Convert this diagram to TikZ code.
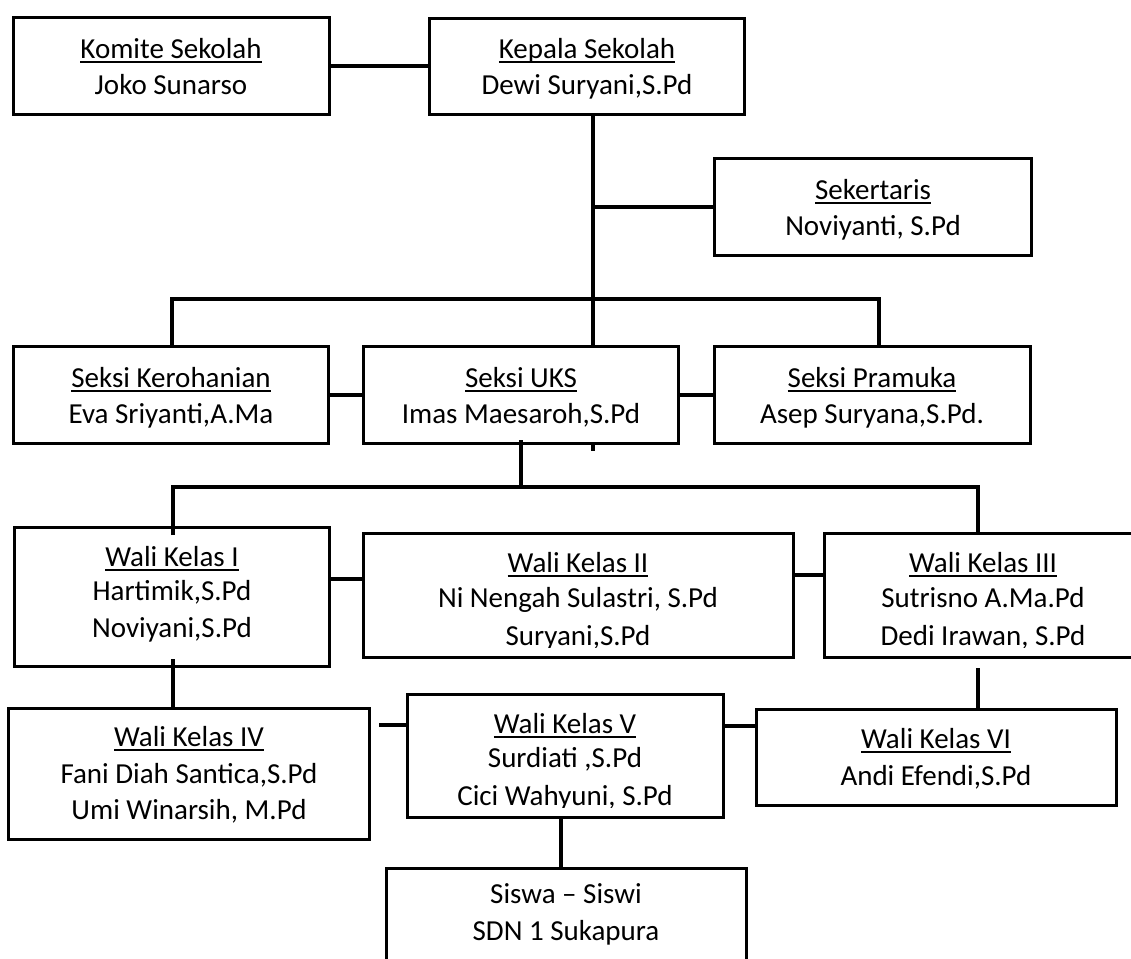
\documentclass[tikz,border=0pt]{standalone}
\usepackage{fontspec}
\setmainfont{Carlito}
\newcommand\ulined[1]{\setbox0\hbox{#1}\rlap{\rule[-4.5pt]{\wd0}{2pt}}\box0}
\begin{document}
\begin{tikzpicture}[x=1pt,y=-1pt,
  box/.style={draw, line width=3.3pt, fill=white, rectangle, inner sep=0pt},
  conn/.style={line width=3.3pt},
  txt/.style={inner sep=0pt, anchor=base, font=\fontsize{29}{35}\selectfont}]
\clip (0,0) rectangle (1131,958);
\fill[white] (0,0) rectangle (1131,958);
% boxes
\node[box, minimum width=316pt, minimum height=97pt] (komite) at (171.25,66) {};
\node[box, minimum width=315pt, minimum height=96pt] (kepala) at (586.75,66.5) {};
\node[box, minimum width=317pt, minimum height=97pt] (sekr) at (873,207) {};
\node[box, minimum width=315pt, minimum height=97pt] (kero) at (170.75,395) {};
\node[box, minimum width=315pt, minimum height=97pt] (uks) at (521,395) {};
\node[box, minimum width=316pt, minimum height=97pt] (pram) at (872.5,395) {};
\node[box, minimum width=315pt, minimum height=139pt] (wali1) at (172,597) {};
\node[box, minimum width=430pt, minimum height=124pt] (wali2) at (578.5,595.5) {};
\node[box, minimum width=317pt, minimum height=124pt] (wali3) at (983,595.5) {};
\node[box, minimum width=361pt, minimum height=131pt] (wali4) at (189,774) {};
\node[box, minimum width=316pt, minimum height=123pt] (wali5) at (565.5,756) {};
\node[box, minimum width=360pt, minimum height=96pt] (wali6) at (936.25,757.5) {};
\node[box, minimum width=360pt, minimum height=133pt] (siswa) at (566.5,935) {};
% junction coordinates
\coordinate (j1) at (593,207);
\coordinate (j2) at (593,299);
\coordinate (mainend) at (593,451);
\coordinate (hl) at (172,299);
\coordinate (hr) at (879,299);
\coordinate (u1) at (521,440);
\coordinate (h2) at (521,487);
\coordinate (h2l) at (173,487);
\coordinate (h2r) at (978,487);
\coordinate (w1top) at (173,535);
\coordinate (w1b) at (173,659);
\coordinate (w3b) at (978,668);
\coordinate (stub) at (379,725);
\coordinate (c12) at (0,579);
\coordinate (c23) at (0,575);
\coordinate (c56) at (0,726);
\coordinate (v5) at (561,0);
% connectors
\draw[conn] (komite.east) -- (komite.east -| kepala.west);
\draw[conn] (kepala.south -| j1) -- (uks.north -| j1);
\draw[conn] (uks.south -| j1) -- (mainend);
\draw[conn] (j1) -- (j1 -| sekr.west);
\draw[conn] (kero.north -| hl) -- (hl) -- (hr) -- (pram.north -| hr);
\draw[conn] (kero.east) -- (uks.west);
\draw[conn] (uks.east) -- (pram.west);
\draw[conn] (u1) -- (h2);
\draw[conn] (w1top) -- (h2l) -- (h2r) -- (wali3.north -| h2r);
\draw[conn] (wali1.east |- c12) -- (wali2.west |- c12);
\draw[conn] (wali2.east |- c23) -- (wali3.west |- c23);
\draw[conn] (w1b) -- (wali4.north -| w1b);
\draw[conn] (w3b) -- (wali6.north -| w3b);
\draw[conn] (stub) -- (wali5.west |- stub);
\draw[conn] (wali5.east |- c56) -- (wali6.west |- c56);
\draw[conn] (wali5.south -| v5) -- (siswa.north -| v5);
% texts
\node[txt] (komiteA) at (171,59) {\ulined{Komite Sekolah}};
\node[txt] (komiteB) at (171,94) {Joko Sunarso};
\node[txt] (kepalaA) at (587,59) {\ulined{Kepala Sekolah}};
\node[txt] (kepalaB) at (587,94) {Dewi Suryani,S.Pd};
\node[txt] (sekrA) at (873,199) {\ulined{Sekertaris}};
\node[txt] (sekrB) at (873,235) {Noviyanti, S.Pd};
\node[txt] (keroA) at (171,387) {\ulined{Seksi Kerohanian}};
\node[txt] (keroB) at (171,423) {Eva Sriyanti,A.Ma};
\node[txt] (uksA) at (521,387) {\ulined{Seksi UKS}};
\node[txt] (uksB) at (521,423) {Imas Maesaroh,S.Pd};
\node[txt] (pramA) at (872,387) {\ulined{Seksi Pramuka}};
\node[txt] (pramB) at (872,423) {Asep Suryana,S.Pd.};
\node[txt] (wali1A) at (172,566) {\ulined{Wali Kelas I}};
\node[txt] (wali1B) at (172,600) {Hartimik,S.Pd};
\node[txt] (wali1C) at (172,637) {Noviyani,S.Pd};
\node[txt] (wali2A) at (578,572) {\ulined{Wali Kelas II}};
\node[txt] (wali2B) at (578,607) {Ni Nengah Sulastri, S.Pd};
\begin{scope}
\clip (365,620) rectangle (792,647);
\node[txt] (wali2C) at (578,645) {Suryani,S.Pd};
\end{scope}
\node[txt] (wali3A) at (983,572) {\ulined{Wali Kelas III}};
\node[txt] (wali3B) at (983,607) {Sutrisno A.Ma.Pd};
\begin{scope}
\clip (826,620) rectangle (1131,647);
\node[txt] (wali3C) at (983,645) {Dedi Irawan, S.Pd};
\end{scope}
\node[txt] (wali4A) at (189,746) {\ulined{Wali Kelas IV}};
\node[txt] (wali4B) at (189,783) {Fani Diah Santica,S.Pd};
\node[txt] (wali4C) at (189,819) {Umi Winarsih, M.Pd};
\node[txt] (wali5A) at (565,733) {\ulined{Wali Kelas V}};
\node[txt] (wali5B) at (565,767) {Surdiati ,S.Pd};
\begin{scope}
\clip (409,780) rectangle (722,807);
\node[txt] (wali5C) at (565,805) {Cici Wahyuni, S.Pd};
\end{scope}
\node[txt] (wali6A) at (936,748) {\ulined{Wali Kelas VI}};
\node[txt] (wali6B) at (936,785) {Andi Efendi,S.Pd};
\node[txt] (siswaA) at (566,903) {Siswa – Siswi};
\node[txt] (siswaB) at (566,940) {SDN 1 Sukapura};
\end{tikzpicture}
\end{document}
